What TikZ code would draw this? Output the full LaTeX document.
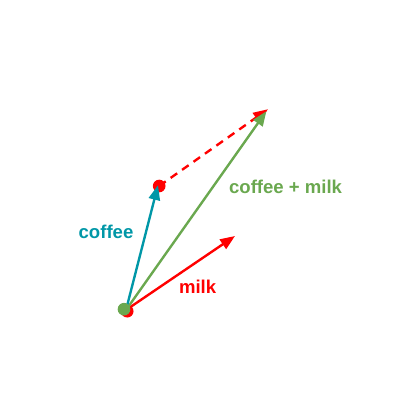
\documentclass[tikz,border=0pt]{standalone}
\usepackage{fontspec}
\setmainfont{Liberation Sans}
\usetikzlibrary{arrows.meta}
\definecolor{coffeeteal}{RGB}{0,151,167}
\definecolor{sumgreen}{RGB}{106,168,79}
\definecolor{milkred}{RGB}{255,0,0}
\tikzset{
	vec/.style={line width=1.7pt, -{Triangle[length=10.5pt, width=8pt]}},
	lbl/.style={font=\fontsize{13.2}{15}\selectfont\bfseries},
	dot/.style={circle, inner sep=0pt, minimum size=9pt}
}

\begin{document}
\begin{tikzpicture}
		\useasboundingbox (0,0) rectangle (10.5,10.5) ;
		\coordinate (O) at (3.15,2.75) ;
		\coordinate (C) at (3.95,5.87) ;
		\coordinate (M) at (5.875,4.6) ;
		\coordinate (S) at (6.7,7.77) ;
		\coordinate (S2) at (6.66,7.72) ;
		\node[dot, fill=milkred] (o1) at (3.18,2.72) {} ;
		\node[dot, fill=milkred] (c1) at (3.98,5.85) {} ;
		\draw[vec, milkred] (O) -- (M) ;
		\draw[vec, milkred, dash pattern=on 0.2cm off 0.15cm] (c1.center) -- (S) ;
		\draw[vec, sumgreen] (O) -- (S2) ;
		\draw[vec, coffeeteal] (O) -- (C) ;
		\node[dot, fill=sumgreen] (o2) at (3.1,2.77) {} ;
		\node[lbl, coffeeteal] (lc) at (2.65,4.71) {coffee} ;
		\node[lbl, sumgreen] (ls) at (7.14,5.83) {coffee + milk} ;
		\node[lbl, milkred] (lm) at (4.94,3.33) {milk} ;
	\end{tikzpicture}
\end{document}
